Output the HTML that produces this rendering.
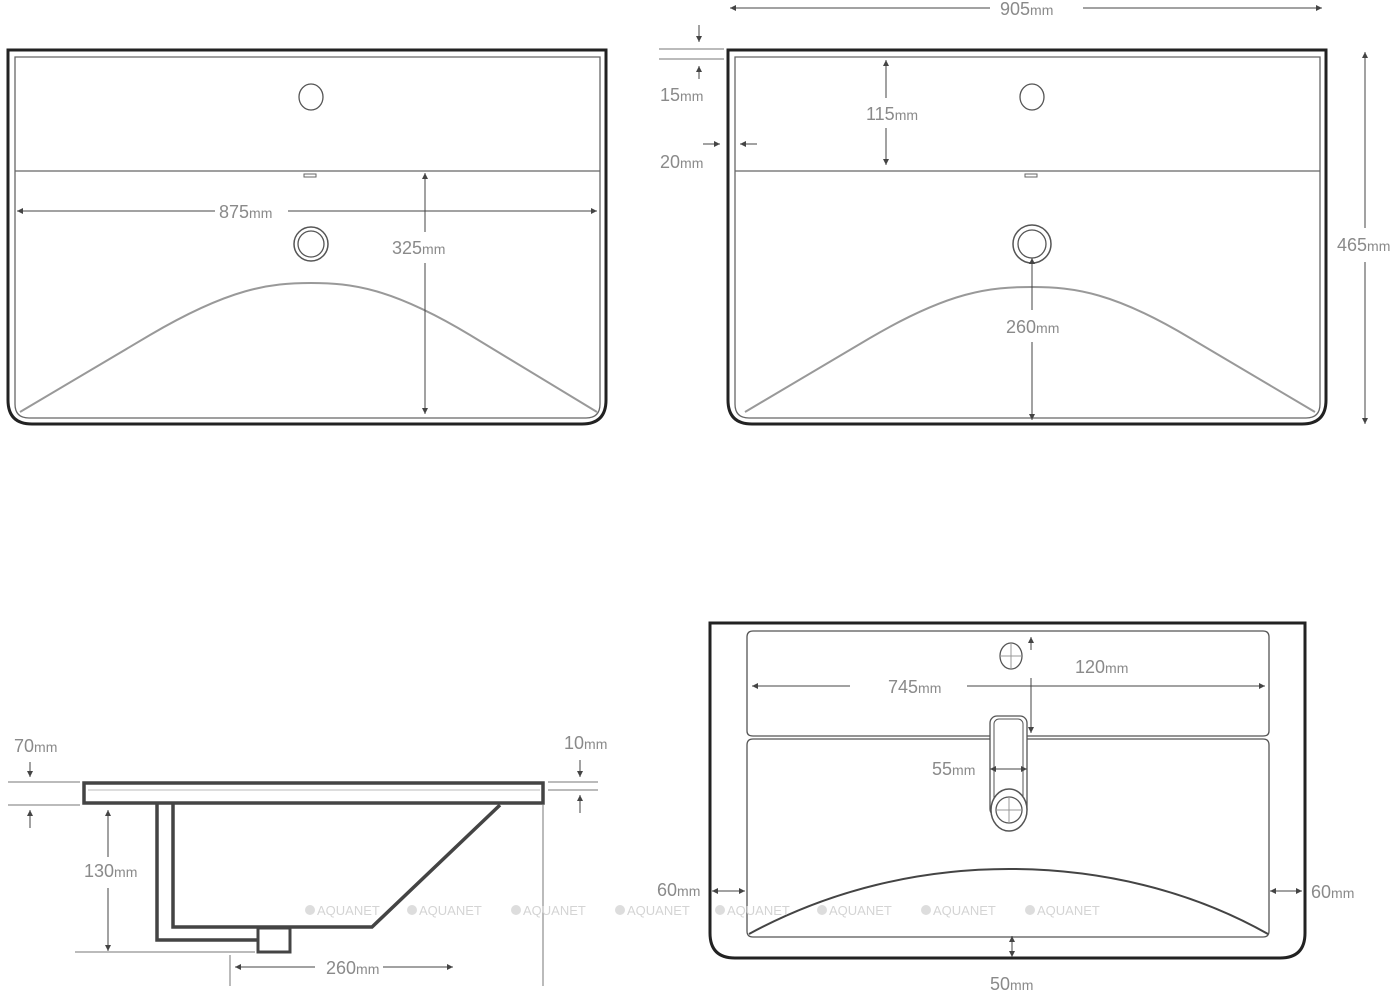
<!DOCTYPE html>
<html><head><meta charset="utf-8"><style>
html,body{margin:0;padding:0;background:#fff;width:1400px;height:996px;overflow:hidden}
svg text{font-family:"Liberation Sans",sans-serif;fill:#8a8a8a;font-size:18px}
.m{font-size:14px}
.w{font-size:13px;fill:#d4d4d4}
</style></head><body>
<svg width="1400" height="996" viewBox="0 0 1400 996" xmlns="http://www.w3.org/2000/svg">
<defs>
<marker id="a" viewBox="0 0 10 10" refX="10" refY="5" markerWidth="9" markerHeight="6" orient="auto-start-reverse" markerUnits="userSpaceOnUse"><path d="M0,0 L10,5 L0,10 z" fill="#444"/></marker>
</defs>
<g fill="none" stroke="#222">
<path d="M8,50 H606 V400 Q606,424 582,424 H32 Q8,424 8,400 Z" stroke-width="3"/>
<path d="M15,57 H600 V404 Q600,418 586,418 H29 Q15,418 15,404 Z" stroke="#666" stroke-width="1.3"/>
<line x1="15" y1="171" x2="600" y2="171" stroke="#666" stroke-width="1.3"/>
<ellipse cx="311" cy="97" rx="12" ry="13" stroke="#555" stroke-width="1.3"/>
<circle cx="311" cy="244" r="17" stroke="#555" stroke-width="1.5"/>
<circle cx="311" cy="244" r="13" stroke="#555" stroke-width="1.3"/>
<rect x="304" y="174" width="12" height="3" stroke="#666" stroke-width="1"/>
<path d="M20,412 L150,335 C230,288 270,283 311,283 C352,283 392,288 470,335 L597,412" stroke="#999" stroke-width="2"/>
<path d="M728,50 H1326 V400 Q1326,424 1302,424 H752 Q728,424 728,400 Z" stroke-width="3"/>
<path d="M735,57 H1320 V404 Q1320,418 1306,418 H749 Q735,418 735,404 Z" stroke="#666" stroke-width="1.3"/>
<line x1="735" y1="171" x2="1320" y2="171" stroke="#666" stroke-width="1.3"/>
<ellipse cx="1032" cy="97" rx="12" ry="13" stroke="#555" stroke-width="1.3"/>
<circle cx="1032" cy="244" r="19" stroke="#555" stroke-width="1.5"/>
<circle cx="1032" cy="244" r="14" stroke="#555" stroke-width="1.3"/>
<rect x="1025" y="174" width="12" height="3" stroke="#666" stroke-width="1"/>
<path d="M745,412 L870,338 C950,291 990,287 1032,287 C1075,287 1115,293 1190,338 L1315,412" stroke="#999" stroke-width="2"/>
<rect x="84" y="783" width="459" height="20" stroke="#444" stroke-width="3.5"/>
<line x1="88" y1="790" x2="540" y2="790" stroke="#bbb" stroke-width="1"/>
<path d="M157,803 V940 H258" stroke="#444" stroke-width="3.5"/>
<path d="M173,803 V927 H372 L500,805" stroke="#444" stroke-width="3.5"/>
<rect x="258" y="928" width="32" height="24" stroke="#444" stroke-width="3"/>
<path d="M710,623 H1305 V933 Q1305,958 1280,958 H735 Q710,958 710,933 Z" stroke-width="3"/>
<path d="M753,631 H1263 Q1269,631 1269,637 V731 Q1269,736 1263,736 H753 Q747,736 747,731 V637 Q747,631 753,631 Z" stroke="#555" stroke-width="1.3"/>
<path d="M753,739 H1263 Q1269,739 1269,745 V931 Q1269,937 1263,937 H753 Q747,937 747,931 V745 Q747,739 753,739 Z" stroke="#555" stroke-width="1.3"/>
<ellipse cx="1011" cy="656" rx="11" ry="13" stroke="#555" stroke-width="1.3"/>
<path d="M1000,656 H1022 M1011,643 V669" stroke="#999" stroke-width="1"/>
<rect x="990" y="716" width="37" height="100" rx="7" fill="#fff" stroke="#555" stroke-width="1.3"/>
<rect x="994" y="719" width="29" height="95" rx="5" stroke="#555" stroke-width="1"/>
<ellipse cx="1009" cy="810" rx="18" ry="21" fill="#fff" stroke="#555" stroke-width="1.5"/>
<circle cx="1009" cy="810" r="13" stroke="#555" stroke-width="1.3"/>
<path d="M996,810 H1022 M1009,797 V823" stroke="#999" stroke-width="1"/>
<path d="M749,934 C830,890 920,869 1009,869 C1100,869 1190,890 1268,934" stroke="#444" stroke-width="2"/>
</g>
<g stroke="#444" stroke-width="1" fill="none">
<line x1="17" y1="211" x2="215" y2="211" marker-start="url(#a)"/>
<line x1="288" y1="211" x2="597" y2="211" marker-end="url(#a)"/>
<line x1="425" y1="173" x2="425" y2="232" marker-start="url(#a)"/>
<line x1="425" y1="263" x2="425" y2="414" marker-end="url(#a)"/>
<line x1="730" y1="8" x2="990" y2="8" marker-start="url(#a)"/>
<line x1="1083" y1="8" x2="1322" y2="8" marker-end="url(#a)"/>
<line x1="1365" y1="52" x2="1365" y2="228" marker-start="url(#a)"/>
<line x1="1365" y1="262" x2="1365" y2="424" marker-end="url(#a)"/>
<line x1="886" y1="60" x2="886" y2="98" marker-start="url(#a)"/>
<line x1="886" y1="128" x2="886" y2="165" marker-end="url(#a)"/>
<line x1="659" y1="49" x2="724" y2="49" stroke="#777"/>
<line x1="659" y1="59" x2="724" y2="59" stroke="#777"/>
<line x1="699" y1="25" x2="699" y2="42" marker-end="url(#a)"/>
<line x1="699" y1="79" x2="699" y2="66" marker-end="url(#a)"/>
<line x1="703" y1="144" x2="720" y2="144" marker-end="url(#a)"/>
<line x1="757" y1="144" x2="740" y2="144" marker-end="url(#a)"/>
<line x1="1032" y1="258" x2="1032" y2="310" marker-start="url(#a)"/>
<line x1="1032" y1="342" x2="1032" y2="420" marker-end="url(#a)"/>
<line x1="8" y1="782" x2="80" y2="782" stroke="#777"/>
<line x1="8" y1="805" x2="80" y2="805" stroke="#777"/>
<line x1="30" y1="762" x2="30" y2="777" marker-end="url(#a)"/>
<line x1="30" y1="828" x2="30" y2="810" marker-end="url(#a)"/>
<line x1="548" y1="782" x2="598" y2="782" stroke="#777"/>
<line x1="548" y1="790" x2="598" y2="790" stroke="#777"/>
<line x1="580" y1="760" x2="580" y2="777" marker-end="url(#a)"/>
<line x1="580" y1="813" x2="580" y2="795" marker-end="url(#a)"/>
<line x1="108" y1="810" x2="108" y2="857" marker-start="url(#a)"/>
<line x1="108" y1="888" x2="108" y2="951" marker-end="url(#a)"/>
<line x1="75" y1="952" x2="255" y2="952" stroke="#777"/>
<line x1="230" y1="955" x2="230" y2="986" stroke="#777"/>
<line x1="543" y1="805" x2="543" y2="986" stroke="#777"/>
<line x1="235" y1="967" x2="315" y2="967" marker-start="url(#a)"/>
<line x1="383" y1="967" x2="453" y2="967" marker-end="url(#a)"/>
<line x1="752" y1="686" x2="850" y2="686" marker-start="url(#a)"/>
<line x1="967" y1="686" x2="1265" y2="686" marker-end="url(#a)"/>
<line x1="1031" y1="637" x2="1031" y2="650" marker-start="url(#a)"/>
<line x1="1031" y1="678" x2="1031" y2="733" marker-end="url(#a)"/>
<line x1="990" y1="769" x2="1027" y2="769" marker-start="url(#a)" marker-end="url(#a)"/>
<line x1="712" y1="891" x2="745" y2="891" marker-start="url(#a)" marker-end="url(#a)"/>
<line x1="1270" y1="891" x2="1302" y2="891" marker-start="url(#a)" marker-end="url(#a)"/>
<line x1="1012" y1="936" x2="1012" y2="957" marker-start="url(#a)" marker-end="url(#a)"/>
</g>
<text x="219" y="218">875<tspan class="m">mm</tspan></text>
<text x="392" y="254">325<tspan class="m">mm</tspan></text>
<text x="1000" y="15">905<tspan class="m">mm</tspan></text>
<text x="1337" y="251">465<tspan class="m">mm</tspan></text>
<text x="866" y="120">115<tspan class="m">mm</tspan></text>
<text x="660" y="101">15<tspan class="m">mm</tspan></text>
<text x="660" y="168">20<tspan class="m">mm</tspan></text>
<text x="1006" y="333">260<tspan class="m">mm</tspan></text>
<text x="14" y="752">70<tspan class="m">mm</tspan></text>
<text x="564" y="749">10<tspan class="m">mm</tspan></text>
<text x="84" y="877">130<tspan class="m">mm</tspan></text>
<text x="326" y="974">260<tspan class="m">mm</tspan></text>
<text x="888" y="693">745<tspan class="m">mm</tspan></text>
<text x="1075" y="673">120<tspan class="m">mm</tspan></text>
<text x="932" y="775">55<tspan class="m">mm</tspan></text>
<text x="657" y="896">60<tspan class="m">mm</tspan></text>
<text x="1311" y="898">60<tspan class="m">mm</tspan></text>
<text x="990" y="990">50<tspan class="m">mm</tspan></text>
<g>
<circle cx="310" cy="910" r="5" fill="#ddd"/><text class="w" x="317" y="915">AQUANET</text>
<circle cx="412" cy="910" r="5" fill="#ddd"/><text class="w" x="419" y="915">AQUANET</text>
<circle cx="516" cy="910" r="5" fill="#ddd"/><text class="w" x="523" y="915">AQUANET</text>
<circle cx="620" cy="910" r="5" fill="#ddd"/><text class="w" x="627" y="915">AQUANET</text>
<circle cx="720" cy="910" r="5" fill="#ddd"/><text class="w" x="727" y="915">AQUANET</text>
<circle cx="822" cy="910" r="5" fill="#ddd"/><text class="w" x="829" y="915">AQUANET</text>
<circle cx="926" cy="910" r="5" fill="#ddd"/><text class="w" x="933" y="915">AQUANET</text>
<circle cx="1030" cy="910" r="5" fill="#ddd"/><text class="w" x="1037" y="915">AQUANET</text>
</g>
</svg>
</body></html>
